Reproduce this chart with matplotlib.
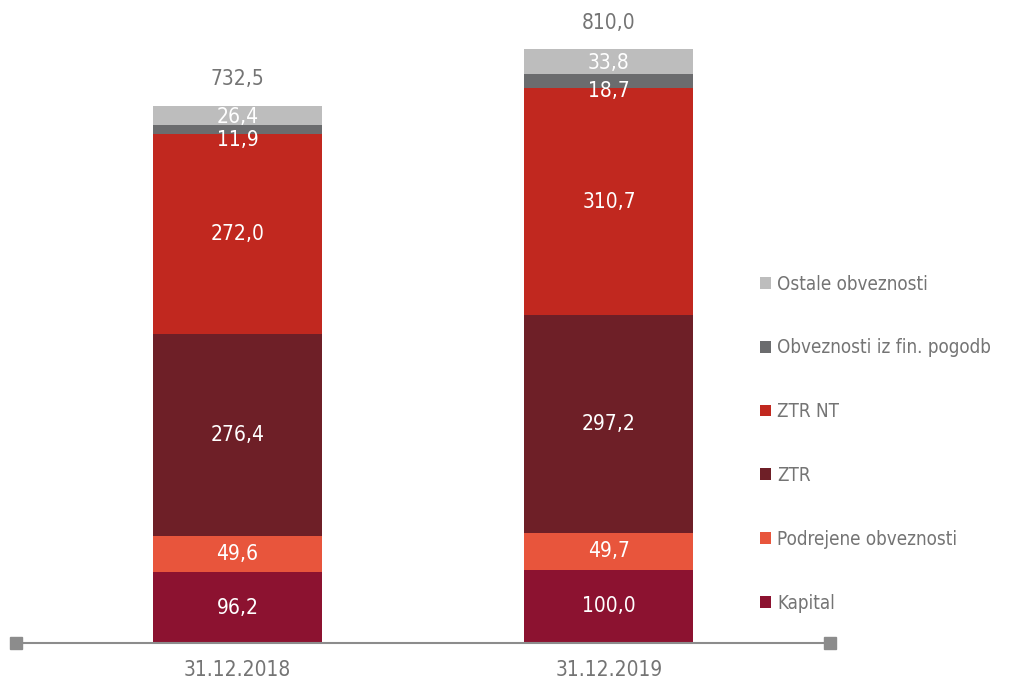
import numpy as np
import matplotlib.pyplot as plt
from matplotlib import font_manager

names = set(f.name for f in font_manager.fontManager.ttflist)
if 'Liberation Sans Narrow' in names:
    plt.rcParams['font.family'] = ['Liberation Sans Narrow', 'DejaVu Sans']
else:
    plt.rcParams['font.family'] = ['DejaVu Sans']
    plt.rcParams['font.stretch'] = 'condensed'

dates = ['31.12.2018', '31.12.2019']
series = ['Kapital', 'Podrejene obveznosti', 'ZTR', 'ZTR NT',
          'Obveznosti iz fin. pogodb', 'Ostale obveznosti']
values = {
    'Kapital': [96.2, 100.0],
    'Podrejene obveznosti': [49.6, 49.7],
    'ZTR': [276.4, 297.2],
    'ZTR NT': [272.0, 310.7],
    'Obveznosti iz fin. pogodb': [11.9, 18.7],
    'Ostale obveznosti': [26.4, 33.8],
}
totals = [732.5, 810.0]
colors = ['#8c1230', '#e8553c', '#6e1f27', '#c1281f', '#6b6c6e', '#bdbdbd']
# small vertical nudges (points) for the thin segments' labels
nudge = {'Obveznosti iz fin. pogodb': -7, 'Ostale obveznosti': -1}

fig = plt.figure(figsize=(10.13, 6.88), dpi=100)
W, H = 1013, 688
left, right, bottom, top = 16, 830, 643, 3
ax = fig.add_axes([left / W, 1 - bottom / H, (right - left) / W, (bottom - top) / H])
ax.axis('off')

x = np.arange(len(dates))
width = 0.455
base = np.zeros(len(dates))
handles = []
for name, c in zip(series, colors):
    vals = np.array(values[name])
    b = ax.bar(x, vals, width, bottom=base, color=c, label=name, zorder=2)
    handles.append(b)
    for xi, v, b0 in zip(x, vals, base):
        ax.annotate(f'{v:.1f}'.replace('.', ','), (xi, b0 + v / 2),
                    xytext=(0, nudge.get(name, 0)), textcoords='offset points',
                    ha='center', va='center', color='white', fontsize=15, zorder=3)
    base += vals

for xi, t in zip(x, totals):
    ax.annotate(f'{t:.1f}'.replace('.', ','), (xi, t), xytext=(0, 12),
                textcoords='offset points', ha='center', va='bottom',
                color='#747474', fontsize=15)

xlim = (-0.596, 1.595)
ax.set_xlim(*xlim)
ax.set_ylim(0, (bottom - top) / 0.733)
ax.plot(xlim, [0, 0], color='#8c8c8c', lw=1.5, marker='s', markersize=8,
        clip_on=False, zorder=4)
for xi, d in zip(x, dates):
    ax.annotate(d, (xi, 0), xytext=(0, -12), textcoords='offset points',
                ha='center', va='top', color='#747474', fontsize=15)

leg = ax.legend(handles[::-1], series[::-1], loc='upper left',
                bbox_to_anchor=(752 / W, 1 - 267 / H), bbox_transform=fig.transFigure,
                frameon=False, fontsize=13.5, handlelength=0.6, handleheight=0.6,
                handletextpad=0.35, labelspacing=2.39, borderaxespad=0)
for t in leg.get_texts():
    t.set_color('#747474')

fig.savefig('out.png', dpi=100)
